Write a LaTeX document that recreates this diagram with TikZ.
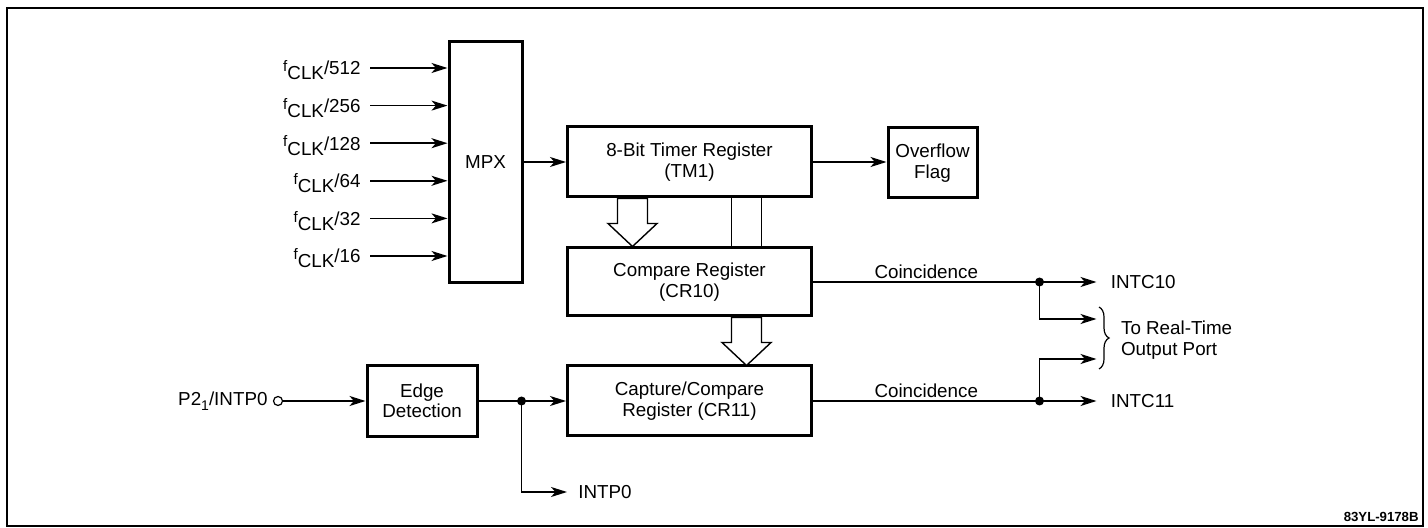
\documentclass[tikz,border=0pt]{standalone}
\usepackage{fontspec}
\setmainfont{Liberation Sans}
\usetikzlibrary{positioning, arrows.meta, decorations.pathreplacing}

\tikzset{
  block/.style={draw, line width=1.5pt, inner sep=0pt, align=center},
  signal/.style={line width=0.8pt},
  flow/.style={signal, -{Stealth[length=8pt, width=5pt, inset=2.2pt]}},
  tap/.style={circle, fill, inner sep=0pt, minimum size=4.5pt},
  outlabel/.style={anchor=west, inner xsep=7pt},
  busarrow/.pic={
    \draw[line width=0.7pt, fill=white]
      (-15,0) -- (15,0) -- (15,25) -- (24.5,25) -- (0,48)
      -- (-24.5,25) -- (-15,25) -- cycle;
  }
}
\newcommand{\fclk}[1]{\raisebox{1.6pt}{\fontsize{7.6}{7.6}\selectfont f}\raisebox{-2.5pt}{CLK}/#1}

\begin{document}
\begin{tikzpicture}[x=0.5pt, y=-0.5pt, font=\fontsize{9.4}{10.2}\selectfont]
    \useasboundingbox (0,0) rectangle (1428,528);
    \draw[line width=1.4pt] (7,8) rectangle (1423,526);

    % blocks
    \node[block, minimum width=36.5pt, minimum height=120.5pt] (mpx) at (485.5,162.5) {MPX};
    \node[block, minimum width=122pt, minimum height=35pt] (tm) at (689.5,162) {8-Bit Timer Register\\(TM1)};
    \node[block, minimum width=44.5pt, minimum height=35pt] (ovf) at (932.5,163) {Overflow\\Flag};
    \node[block, minimum width=122pt, minimum height=34pt] (cmp) at (689.5,282) {Compare Register\\(CR10)};
    \node[block, minimum width=122pt, minimum height=35pt] (cap) at (689.5,401) {Capture/Compare\\Register (CR11)};
    \node[block, minimum width=55pt, minimum height=35.5pt] (edge) at (422,401) {Edge\\Detection};

    % clock inputs
    \foreach \rate [count=\i from 0] in {512,256,128,64,32,16} {
        \coordinate (in\i) at (370,{68+37.6*\i});
        \node[anchor=base east, inner sep=0pt] (clk\i) at ([shift={(-9,7)}]in\i) {\fclk{\rate}};
        \draw[flow] (in\i) -- (in\i -| mpx.west);
    }

    \draw[flow] (mpx.east |- tm.west) -- (tm.west);
    \draw[flow] (tm.east) -- (tm.east -| ovf.west);

    % bus from timer to compare register, compare to capture
    \pic at ([xshift=-28.5pt]tm.south) {busarrow};
    \pic at ([xshift=28.5pt]cmp.south) {busarrow};
    \foreach \dx in {21pt,36pt}
        \draw[signal] ([xshift=\dx]tm.south) -- ([xshift=\dx]cmp.north);

    % external pin and edge detection
    \node[circle, draw, line width=0.6pt, inner sep=0pt, minimum size=4.5pt] (pin) at (278,401) {};
    \node[left=2.5pt of pin, inner sep=0pt] (pinlbl) {P2\raisebox{-2.5pt}{\fontsize{7}{7}\selectfont 1}/INTP0};
    \draw[flow] (pin) -- (edge);

    \path (edge.east) -- ++(43,0) coordinate (t0);
    \draw[flow] (edge.east) -- (cap.west);
    \node[tap] at (t0) {};
    \node[anchor=west, inner xsep=5.5pt] (intp) at (567,492) {INTP0};
    \draw[flow] (t0) |- (intp.west);

    % coincidence outputs
    \path (cmp.east) -- ++(226.5,0) coordinate (c1);
    \path (cap.east) -- ++(226.5,0) coordinate (c2);
    \draw[signal] (cmp.east) -- node[above, inner sep=1.5pt] (co1) {Coincidence} (c1);
    \draw[signal] (cap.east) -- node[above, inner sep=1.5pt] (co2) {Coincidence} (c2);
    \node[tap] at (c1) {};
    \node[tap] at (c2) {};
    \node[outlabel, right=28.5pt of c1] (intc10) {INTC10};
    \node[outlabel, right=28.5pt of c2] (intc11) {INTC11};
    \draw[flow] (c1) -- (intc10.west);
    \draw[flow] (c2) -- (intc11.west);

    \coordinate (rt1) at ([shift={(57,37)}]c1);
    \coordinate (rt2) at ([shift={(57,-42)}]c2);
    \draw[flow] (c1) |- (rt1);
    \draw[flow] (c2) |- (rt2);
    \draw[line width=0.6pt, decorate, decoration={brace, amplitude=5pt}] (1099,307) -- (1099,369);
    \node[anchor=west, align=left] (rtport) at (1114,340) {To Real-Time\\Output Port};

    \node[anchor=east, inner sep=0pt, font=\fontsize{6.6}{7}\selectfont\bfseries] (fig) at (1419,517) {83YL-9178B};
\end{tikzpicture}
\end{document}
